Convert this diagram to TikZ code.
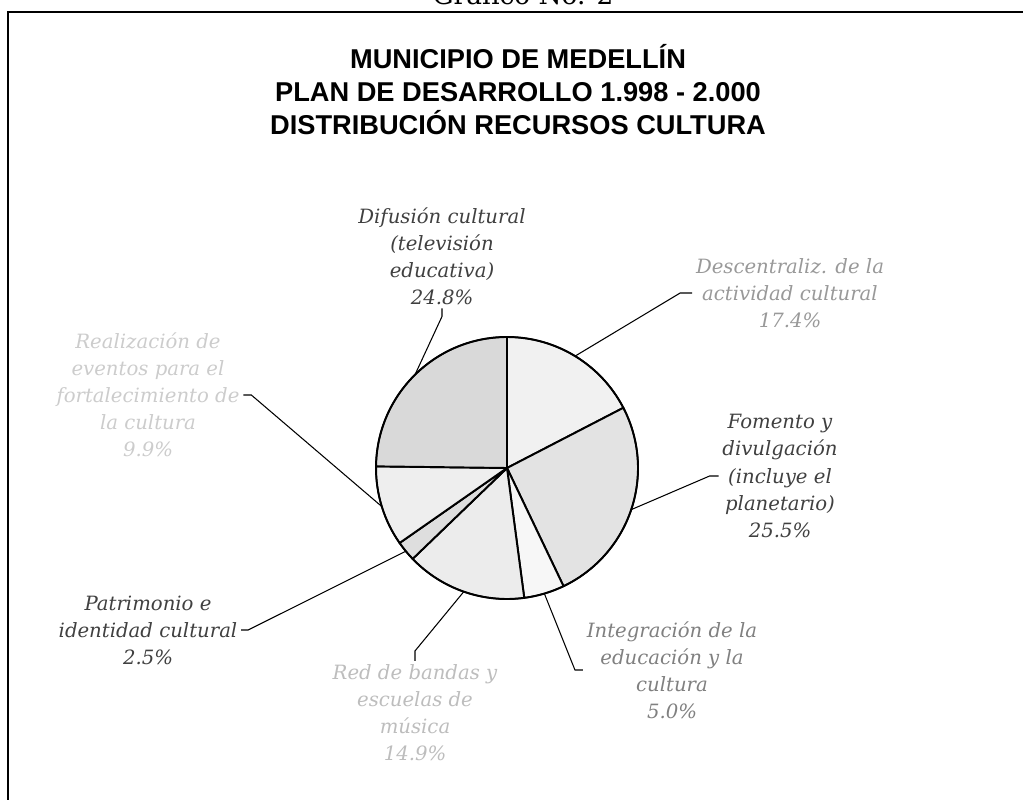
\documentclass[tikz,border=0pt]{standalone}
\usepackage{fontspec}
\setmainfont{DejaVu Serif}
\setsansfont{Liberation Sans}
\usetikzlibrary{calc}

\definecolor{txtdark}{gray}{0.25}
\definecolor{txtmid}{gray}{0.50}
\definecolor{txtlight}{gray}{0.60}
\definecolor{txtpale}{gray}{0.74}
\definecolor{txtpaler}{gray}{0.80}

\newcommand{\lblfont}{\fontsize{11.2}{15.4}\selectfont\itshape}
\def\rad{131}
\def\pieslice[#1](#2:#3){\draw[slice,#1] (0,0) -- (#2:\rad) arc (#2:#3:\rad) -- cycle;}

\tikzset{
	slice/.style={draw=black, line width=1.1pt, line join=round},
	leader/.style={draw=black, line width=0.6pt},
	lbl/.style={font=\lblfont, align=center, inner sep=2pt},
}

\begin{document}
\begin{tikzpicture}[x=0.02cm, y=-0.02cm]
			%%%%% START %%%%%
			\useasboundingbox (0,0) rectangle (1023,800);
			\clip (0,0) rectangle (1023,800);
			
			\node[font=\fontsize{15}{18}\selectfont, anchor=base] (gtitle) at (523, 5) {Gráfico No. 2};
			\draw[line width=1.4pt] (1060, 12) -| (8, 830);
			
			\node[font=\sffamily\bfseries\fontsize{15.5}{18.8}\selectfont, align=center] (title) at (518, 90)
				{MUNICIPIO DE MEDELLÍN\\PLAN DE DESARROLLO 1.998 - 2.000\\DISTRIBUCIÓN RECURSOS CULTURA};
			
			% pie
			\begin{scope}[shift={(507,468)}, yscale=-1]
				\pieslice[fill=gray!11](90:27.36)
				\pieslice[fill=gray!22](27.36:-64.44)
				\pieslice[fill=gray!6](-64.44:-82.44)
				\pieslice[fill=gray!15](-82.44:-136.08)
				\pieslice[fill=gray!26](-136.08:-145.08)
				\pieslice[fill=gray!13](-145.08:-180.72)
				\pieslice[fill=gray!30](-180.72:-270)
				\draw[line width=0.9pt] (0,0) circle (\rad);
				
				\coordinate (desc-pt) at (58.68:\rad);
				\coordinate (fom-pt) at (-18.54:\rad);
				\coordinate (integ-pt) at (-73.44:\rad);
				\coordinate (red-pt) at (-109.26:\rad);
				\coordinate (patr-pt) at (-140.58:\rad);
				\coordinate (real-pt) at (-162.9:\rad);
				\coordinate (difu-pt) at (-225.36:\rad);
			\end{scope}
			
			% labels
			\node[lbl, text=txtdark] (difu) at (442, 256) {Difusión cultural\\(televisión\\educativa)\\24.8\%};
			\node[lbl, text=txtlight] (desc) at (790, 293) {Descentraliz. de la\\actividad cultural\\17.4\%};
			\node[lbl, text=txtdark] (fom) at (780, 476) {Fomento y\\divulgación\\(incluye el\\planetario)\\25.5\%};
			\node[lbl, text=txtmid] (integ) at (672, 670) {Integración de la\\educación y la\\cultura\\5.0\%};
			\node[lbl, text=txtpale] (red) at (415, 713) {Red de bandas y\\escuelas de\\música\\14.9\%};
			\node[lbl, text=txtpaler] (real) at (148, 395) {Realización de\\eventos para el\\fortalecimiento de\\la cultura\\9.9\%};
			\node[lbl, text=txtdark] (patr) at (148, 630) {Patrimonio e\\identidad cultural\\2.5\%};
			
			% leaders
			\draw[leader] (difu-pt) -- ([yshift=-0.16cm]difu.south) -- (difu.south);
			\draw[leader] (desc-pt) -- ([xshift=-0.24cm]desc.west) -- (desc.west);
			\draw[leader] (fom-pt) -- ([xshift=-0.18cm]fom.west) -- (fom.west);
			\draw[leader] (integ-pt) -- ([xshift=-0.16cm]integ.west) -- (integ.west);
			\draw[leader] (red-pt) -- ([yshift=0.2cm]red.north) -- (red.north);
			\draw[leader] (patr-pt) -- ([xshift=0.14cm]patr.east) -- (patr.east);
			\draw[leader] (real-pt) -- ([xshift=0.16cm]real.east) -- (real.east);
			%%%%% END %%%%%
\end{tikzpicture}
\end{document}
